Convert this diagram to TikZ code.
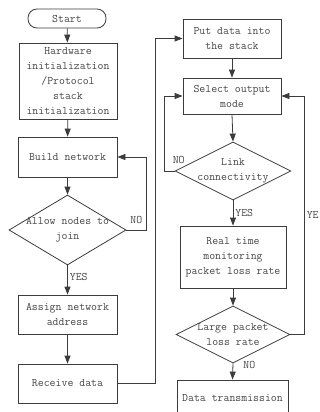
\documentclass[tikz,border=0pt]{standalone}
\usetikzlibrary{arrows.meta,shapes.geometric}
\definecolor{lineGray}{RGB}{60,60,60}
\definecolor{textGray}{RGB}{70,70,70}

\begin{document}
\begin{tikzpicture}[x=1pt,y=-1pt,
    font=\fontsize{11.5}{15}\selectfont\ttfamily,
    box/.style={draw=lineGray, line width=0.8pt, text=textGray, align=center, inner sep=2pt},
    decision/.style={draw=lineGray, line width=0.8pt, diamond, inner sep=0pt},
    flow/.style={draw=lineGray, line width=0.8pt, -{Triangle[length=8pt,width=6pt]}},
    tag/.style={text=textGray, inner sep=2pt}]
  \useasboundingbox (0,0) rectangle (320,412);

  % left column
  \node[box, rounded corners=9pt, minimum width=78pt, minimum height=19pt] (start) at (67,18.5) {Start};
  \node[box, minimum width=98pt, minimum height=76pt] (hw) at (68,81) {Hardware\\initialization\\/Protocol\\stack\\initialization};
  \node[box, minimum width=99pt, minimum height=40pt] (build) at (67.5,157) {Build network};
  \node[decision, minimum width=117pt, minimum height=70pt,
    label={[tag, align=center]center:{Allow nodes to\\join}}] (allow) at (67.5,230) {};
  \node[box, minimum width=99pt, minimum height=39pt] (assign) at (67.5,314.5) {Assign network\\address};
  \node[box, minimum width=99pt, minimum height=39pt] (recv) at (67.5,383.5) {Receive data};

  % right column
  \node[box, minimum width=98pt, minimum height=39pt] (put) at (232,38.5) {Put data into\\the stack};
  \node[box, minimum width=98pt, minimum height=36pt] (select) at (232,96) {Select output\\mode};
  \node[decision, minimum width=116pt, minimum height=58pt,
    label={[tag, align=center]center:{Link\\connectivity}}] (link) at (233,171) {};
  \node[box, minimum width=106pt, minimum height=62pt] (real) at (233,257) {Real time\\monitoring\\packet loss rate};
  \node[decision, minimum width=114pt, minimum height=57pt,
    label={[tag, align=center]center:{Large packet\\loss rate}}] (large) at (233,334.5) {};
  \node[box, minimum width=111pt, minimum height=36pt] (trans) at (232.5,398) {Data transmission};

  % connectors
  \draw[flow] (start) -- (hw);
  \draw[flow] (hw) -- (build);
  \draw[flow] (build) -- (allow);
  \draw[flow] (allow.east) -- node[tag, above=4pt] {NO} ++(20,0) |- (build.east);
  \draw[flow] (allow.south) -- node[tag, pos=0.4, right] {YES} (assign.north);
  \draw[flow] (assign) -- (recv);
  \draw[flow] (recv.east) -- ++(38,0) |- (put.west);
  \draw[flow] (put) -- (select);
  \draw[flow] (select.south) -- (link.north);
  \draw[flow] (link.west) -- ++(-10,0) |- (select.west);
  \node[tag, anchor=south west, xshift=-4pt, yshift=5pt] (linkno) at (link.west) {NO};
  \draw[flow] (link.south) -- node[tag, right] {YES} (real.north);
  \draw[flow] (real.south) -- (large.north);
  \draw[flow] (large.east) -- ++(14,0) |- node[tag, pos=0.25, right] {YE} (select.east);
  \draw[flow] (large.south) -- node[tag, pos=0.1, right=8pt] {NO} (trans.north);
\end{tikzpicture}
\end{document}
